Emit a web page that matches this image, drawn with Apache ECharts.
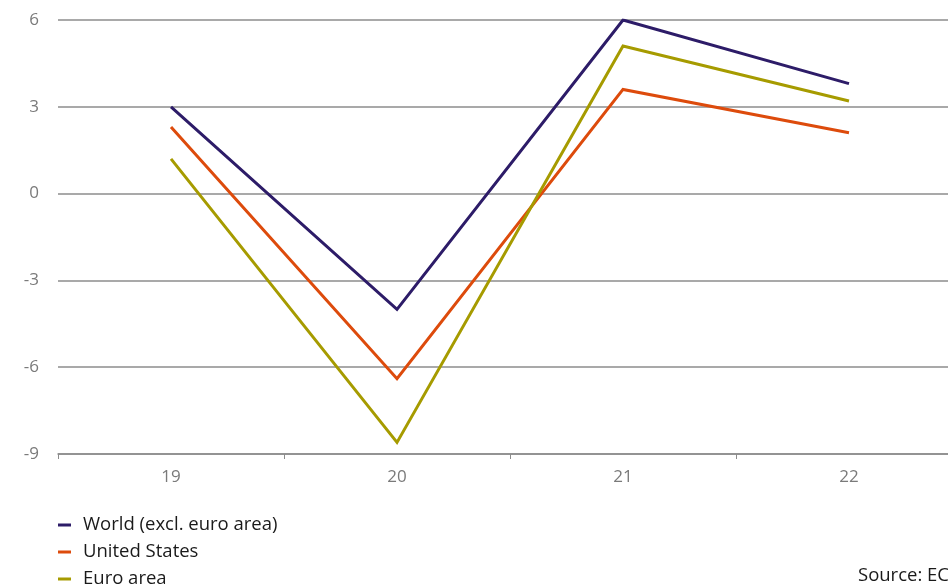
<!DOCTYPE html>
<html>
<head>
<meta charset="utf-8">
<style>
  html, body { margin: 0; padding: 0; background: #fff; }
  #chart { width: 948px; height: 585px; }
</style>
<script src="https://cdn.jsdelivr.net/npm/echarts@6/dist/echarts.min.js"></script>
</head>
<body>
<div id="chart"></div>
<script>
// Real GDP growth, annual percentage changes
const years = ['19', '20', '21', '22'];
const worldExEuro = [3.0, -4.0, 6.0, 3.8];
const unitedStates = [2.3, -6.4, 3.6, 2.1];
const euroArea = [1.2, -8.6, 5.1, 3.2];
const yTicks = { min: -9, max: 6, step: 3 };

const FONT = '"Open Sans", "Noto Sans", sans-serif';
const chart = echarts.init(document.getElementById('chart'), null, { renderer: 'canvas' });

function lineSeries(name, data, color) {
  return {
    name: name,
    type: 'line',
    data: data,
    showSymbol: false,
    symbol: 'none',
    lineStyle: { color: color, width: 3, cap: 'butt', join: 'miter' },
    itemStyle: { color: color },
    emphasis: { disabled: true },
    animation: false
  };
}

chart.setOption({
  animation: false,
  // plot area runs a little past the right edge of the canvas
  grid: { left: 58, top: 20, width: 904, height: 434, containLabel: false, outerBoundsMode: 'none' },
  xAxis: {
    type: 'category',
    data: years,
    boundaryGap: true,
    axisLine: { show: true, onZero: false, lineStyle: { color: '#8c8c8c', width: 1.5 } },
    axisTick: { show: true, length: 5, lineStyle: { color: '#8c8c8c', width: 1 } },
    axisLabel: { color: '#7a7a7a', fontSize: 17, fontFamily: FONT, margin: 15 },
    splitLine: { show: false }
  },
  yAxis: {
    type: 'value',
    min: yTicks.min,
    max: yTicks.max,
    interval: yTicks.step,
    axisLine: { show: false },
    axisTick: { show: false },
    axisLabel: { color: '#7a7a7a', fontSize: 17, fontFamily: FONT, margin: 19 },
    splitLine: { show: true, lineStyle: { color: '#8c8c8c', width: 1.5 } }
  },
  legend: {
    orient: 'vertical',
    left: 58,
    top: 514,
    height: 90,
    padding: 0,
    icon: 'rect',
    itemWidth: 13,
    itemHeight: 3,
    itemGap: 5,
    selectedMode: false,
    textStyle: { color: '#1a1a1a', fontSize: 18.5, fontFamily: FONT, lineHeight: 22, padding: [0, 0, 0, 7] },
    data: ['World (excl. euro area)', 'United States', 'Euro area']
  },
  graphic: [{
    type: 'text',
    left: 858,
    top: 566,
    style: { text: 'Source: ECB', fill: '#1a1a1a', font: '18.5px ' + FONT }
  }],
  series: [
    lineSeries('World (excl. euro area)', worldExEuro, '#2d1c68'),
    lineSeries('United States', unitedStates, '#dd4b0c'),
    lineSeries('Euro area', euroArea, '#a69b00')
  ]
});
</script>
</body>
</html>
